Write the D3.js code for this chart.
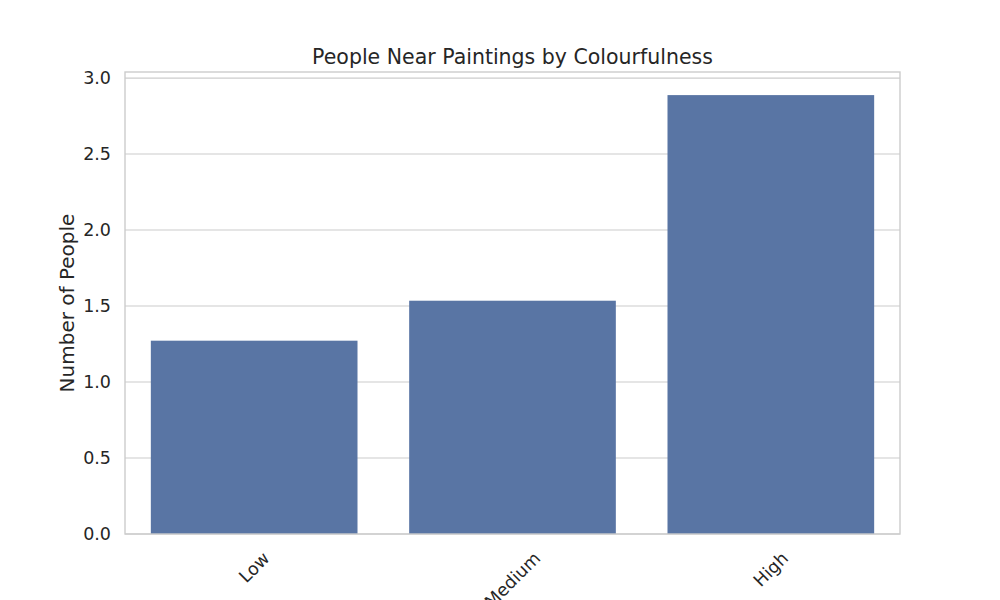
<!DOCTYPE html>
<html lang="en">
    <head>
        <meta charset="utf-8">
        <title>People Near Paintings by Colourfulness</title>
        <script src="https://d3js.org/d3.v7.min.js"></script>
        <style>
            body { margin: 0; background: #fff; }
            text { font-family: "DejaVu Sans", sans-serif; fill: #262626; }
        </style>
    </head>
    <body>
        <script type="text/javascript">
        'use strict';

        //data
        var categories = ["Low", "Medium", "High"];
        var values = [1.272, 1.535, 2.888];
        var yTicks = [0, 0.5, 1.0, 1.5, 2.0, 2.5, 3.0];

        var w = 1000;
        var h = 600;
        var margin = {top: 72, right: 100, bottom: 66, left: 125};
        var pw = w - margin.left - margin.right;
        var ph = h - margin.top - margin.bottom;

        var xScale = d3.scaleBand()
            .domain(categories)
            .range([0, pw])
            .paddingInner(0.2)
            .paddingOuter(0.1);
        var yScale = d3.scaleLinear()
            .domain([0, 3.04])
            .range([ph, 0]);

        var svg = d3.select("body")
                    .append("svg")
                    .attr("width", w)
                    .attr("height", h);

        var g = svg.append("g")
            .attr("transform", "translate(" + margin.left + "," + margin.top + ")");

        //grid
        g.selectAll("line.grid")
            .data(yTicks)
            .enter()
            .append("line")
            .attr("class", "grid")
            .attr("x1", 0)
            .attr("x2", pw)
            .attr("y1", function(d){ return yScale(d); })
            .attr("y2", function(d){ return yScale(d); })
            .attr("stroke", "#cccccc")
            .attr("stroke-width", 1.1);

        //bars
        g.selectAll("rect.bar")
            .data(values)
            .enter()
            .append("rect")
            .attr("class", "bar")
            .attr("x", function(d, i){ return xScale(categories[i]); })
            .attr("y", function(d){ return yScale(d); })
            .attr("width", xScale.bandwidth())
            .attr("height", function(d){ return ph - yScale(d); })
            .attr("fill", "#5975a4");

        //frame
        g.append("rect")
            .attr("x", 0)
            .attr("y", 0)
            .attr("width", pw)
            .attr("height", ph)
            .attr("fill", "none")
            .attr("stroke", "#cccccc")
            .attr("stroke-width", 1.4);

        //y axis
        var yAxis = d3.axisLeft(yScale)
            .tickValues(yTicks)
            .tickSize(0)
            .tickPadding(14)
            .tickFormat(d3.format(".1f"));
        g.append("g")
            .call(yAxis)
            .call(function(s){ s.select(".domain").remove(); })
            .selectAll("text")
            .attr("font-size", "17.5px")
            .attr("font-family", "DejaVu Sans")
            .attr("fill", "#262626");

        //x labels, rotated 45 and centered under the bar
        var xl = g.append("g");
        categories.forEach(function(c){
            var t = xl.append("text")
                .text(c)
                .attr("font-size", "17.5px")
                .attr("text-anchor", "middle")
                .attr("dominant-baseline", "central");
            var len = t.node().getComputedTextLength();
            var fh = 17.5 * 1.0;
            var half = (len + fh) / Math.SQRT2 / 2;
            var cx = xScale(c) + xScale.bandwidth() / 2;
            var cy = ph + 15 + half;
            t.attr("transform", "translate(" + cx + "," + cy + ") rotate(-45)");
        });

        //y label
        svg.append("text")
            .attr("transform", "translate(" + 74 + "," + (margin.top + ph / 2) + ") rotate(-90)")
            .attr("text-anchor", "middle")
            .attr("font-size", "20px")
            .text("Number of People");

        //title
        svg.append("text")
            .attr("x", margin.left + pw / 2)
            .attr("y", 64)
            .attr("text-anchor", "middle")
            .attr("font-size", "20.5px")
            .text("People Near Paintings by Colourfulness");
        </script>
    </body>
</html>
